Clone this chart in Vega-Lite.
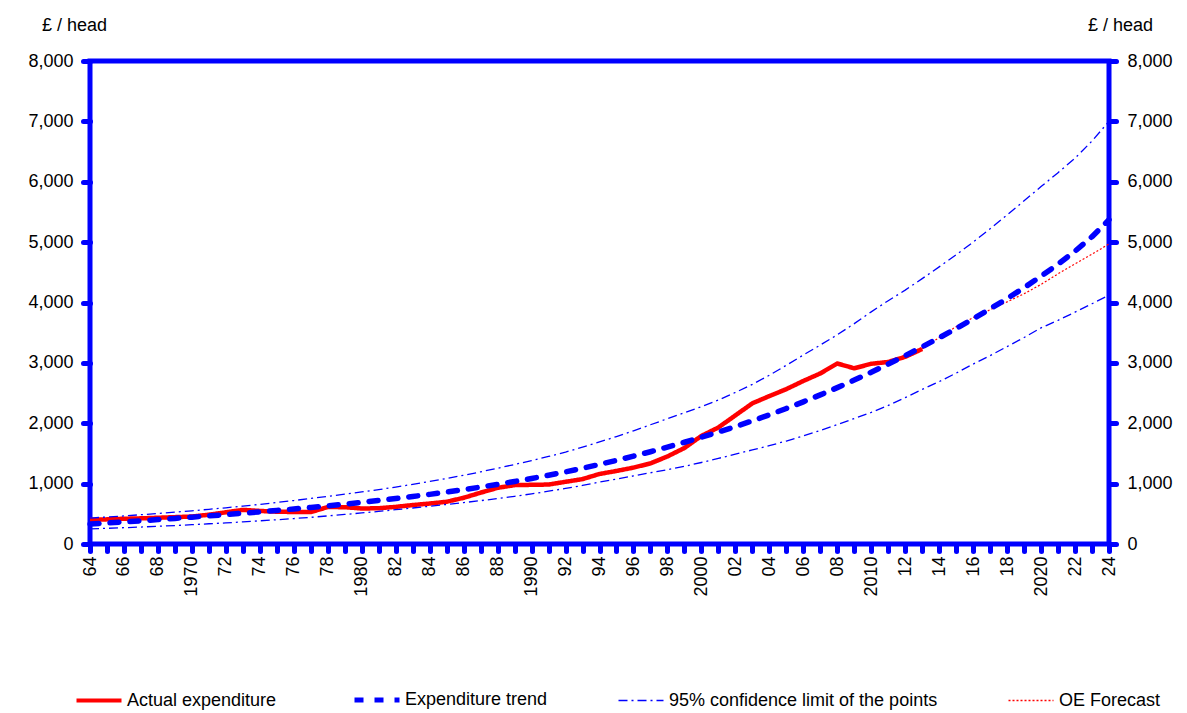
{
  "$schema": "https://vega.github.io/schema/vega-lite/v6.json",
  "width": 1019,
  "height": 483,
  "autosize": {"type": "none"},
  "padding": {"left": 90, "top": 61, "right": 78, "bottom": 169},
  "background": "white",
  "config": {
    "font": "Liberation Sans",
    "view": {"stroke": "#0000FF", "strokeWidth": 5},
    "axis": {
      "labelFont": "Liberation Sans",
      "labelFontSize": 18,
      "labelColor": "#000000",
      "tickColor": "#0000FF",
      "tickWidth": 5,
      "tickSize": 7,
      "tickCap": "round",
      "domain": false,
      "grid": false,
      "labelFlush": false,
      "labelOverlap": false,
      "titleFont": "Liberation Sans",
      "titleFontSize": 18,
      "titleFontWeight": "normal",
      "titleColor": "#000000"
    },
    "legend": {
      "orient": "none",
      "legendX": 0,
      "legendY": 630,
      "direction": "horizontal",
      "columns": 4,
      "symbolType": "stroke",
      "symbolSize": 2025,
      "labelFont": "Liberation Sans",
      "labelFontSize": 18,
      "labelColor": "#000000",
      "labelOffset": 19,
      "labelLimit": 400,
      "columnPadding": 67,
      "padding": 0
    }
  },
  "data": {"values": [
    {"year": 1964, "value": 400, "series": "Actual expenditure", "bound": "a"},
    {"year": 1965, "value": 408, "series": "Actual expenditure", "bound": "a"},
    {"year": 1966, "value": 418, "series": "Actual expenditure", "bound": "a"},
    {"year": 1967, "value": 425, "series": "Actual expenditure", "bound": "a"},
    {"year": 1968, "value": 435, "series": "Actual expenditure", "bound": "a"},
    {"year": 1969, "value": 445, "series": "Actual expenditure", "bound": "a"},
    {"year": 1970, "value": 455, "series": "Actual expenditure", "bound": "a"},
    {"year": 1971, "value": 485, "series": "Actual expenditure", "bound": "a"},
    {"year": 1972, "value": 525, "series": "Actual expenditure", "bound": "a"},
    {"year": 1973, "value": 565, "series": "Actual expenditure", "bound": "a"},
    {"year": 1974, "value": 548, "series": "Actual expenditure", "bound": "a"},
    {"year": 1975, "value": 535, "series": "Actual expenditure", "bound": "a"},
    {"year": 1976, "value": 530, "series": "Actual expenditure", "bound": "a"},
    {"year": 1977, "value": 528, "series": "Actual expenditure", "bound": "a"},
    {"year": 1978, "value": 612, "series": "Actual expenditure", "bound": "a"},
    {"year": 1979, "value": 610, "series": "Actual expenditure", "bound": "a"},
    {"year": 1980, "value": 588, "series": "Actual expenditure", "bound": "a"},
    {"year": 1981, "value": 592, "series": "Actual expenditure", "bound": "a"},
    {"year": 1982, "value": 615, "series": "Actual expenditure", "bound": "a"},
    {"year": 1983, "value": 645, "series": "Actual expenditure", "bound": "a"},
    {"year": 1984, "value": 670, "series": "Actual expenditure", "bound": "a"},
    {"year": 1985, "value": 700, "series": "Actual expenditure", "bound": "a"},
    {"year": 1986, "value": 765, "series": "Actual expenditure", "bound": "a"},
    {"year": 1987, "value": 850, "series": "Actual expenditure", "bound": "a"},
    {"year": 1988, "value": 930, "series": "Actual expenditure", "bound": "a"},
    {"year": 1989, "value": 975, "series": "Actual expenditure", "bound": "a"},
    {"year": 1990, "value": 980, "series": "Actual expenditure", "bound": "a"},
    {"year": 1991, "value": 985, "series": "Actual expenditure", "bound": "a"},
    {"year": 1992, "value": 1030, "series": "Actual expenditure", "bound": "a"},
    {"year": 1993, "value": 1075, "series": "Actual expenditure", "bound": "a"},
    {"year": 1994, "value": 1160, "series": "Actual expenditure", "bound": "a"},
    {"year": 1995, "value": 1210, "series": "Actual expenditure", "bound": "a"},
    {"year": 1996, "value": 1265, "series": "Actual expenditure", "bound": "a"},
    {"year": 1997, "value": 1335, "series": "Actual expenditure", "bound": "a"},
    {"year": 1998, "value": 1450, "series": "Actual expenditure", "bound": "a"},
    {"year": 1999, "value": 1590, "series": "Actual expenditure", "bound": "a"},
    {"year": 2000, "value": 1790, "series": "Actual expenditure", "bound": "a"},
    {"year": 2001, "value": 1930, "series": "Actual expenditure", "bound": "a"},
    {"year": 2002, "value": 2130, "series": "Actual expenditure", "bound": "a"},
    {"year": 2003, "value": 2330, "series": "Actual expenditure", "bound": "a"},
    {"year": 2004, "value": 2450, "series": "Actual expenditure", "bound": "a"},
    {"year": 2005, "value": 2565, "series": "Actual expenditure", "bound": "a"},
    {"year": 2006, "value": 2700, "series": "Actual expenditure", "bound": "a"},
    {"year": 2007, "value": 2825, "series": "Actual expenditure", "bound": "a"},
    {"year": 2008, "value": 2990, "series": "Actual expenditure", "bound": "a"},
    {"year": 2009, "value": 2910, "series": "Actual expenditure", "bound": "a"},
    {"year": 2010, "value": 2985, "series": "Actual expenditure", "bound": "a"},
    {"year": 2011, "value": 3015, "series": "Actual expenditure", "bound": "a"},
    {"year": 2012, "value": 3100, "series": "Actual expenditure", "bound": "a"},
    {"year": 2013, "value": 3230, "series": "Actual expenditure", "bound": "a"},

    {"year": 1964, "value": 330, "series": "Expenditure trend", "bound": "t"},
    {"year": 1965, "value": 348, "series": "Expenditure trend", "bound": "t"},
    {"year": 1966, "value": 366, "series": "Expenditure trend", "bound": "t"},
    {"year": 1967, "value": 385, "series": "Expenditure trend", "bound": "t"},
    {"year": 1968, "value": 404, "series": "Expenditure trend", "bound": "t"},
    {"year": 1969, "value": 424, "series": "Expenditure trend", "bound": "t"},
    {"year": 1970, "value": 445, "series": "Expenditure trend", "bound": "t"},
    {"year": 1971, "value": 466, "series": "Expenditure trend", "bound": "t"},
    {"year": 1972, "value": 487, "series": "Expenditure trend", "bound": "t"},
    {"year": 1973, "value": 509, "series": "Expenditure trend", "bound": "t"},
    {"year": 1974, "value": 532, "series": "Expenditure trend", "bound": "t"},
    {"year": 1975, "value": 555, "series": "Expenditure trend", "bound": "t"},
    {"year": 1976, "value": 580, "series": "Expenditure trend", "bound": "t"},
    {"year": 1977, "value": 605, "series": "Expenditure trend", "bound": "t"},
    {"year": 1978, "value": 632, "series": "Expenditure trend", "bound": "t"},
    {"year": 1979, "value": 660, "series": "Expenditure trend", "bound": "t"},
    {"year": 1980, "value": 690, "series": "Expenditure trend", "bound": "t"},
    {"year": 1981, "value": 720, "series": "Expenditure trend", "bound": "t"},
    {"year": 1982, "value": 753, "series": "Expenditure trend", "bound": "t"},
    {"year": 1983, "value": 787, "series": "Expenditure trend", "bound": "t"},
    {"year": 1984, "value": 822, "series": "Expenditure trend", "bound": "t"},
    {"year": 1985, "value": 860, "series": "Expenditure trend", "bound": "t"},
    {"year": 1986, "value": 900, "series": "Expenditure trend", "bound": "t"},
    {"year": 1987, "value": 943, "series": "Expenditure trend", "bound": "t"},
    {"year": 1988, "value": 988, "series": "Expenditure trend", "bound": "t"},
    {"year": 1989, "value": 1035, "series": "Expenditure trend", "bound": "t"},
    {"year": 1990, "value": 1085, "series": "Expenditure trend", "bound": "t"},
    {"year": 1991, "value": 1138, "series": "Expenditure trend", "bound": "t"},
    {"year": 1992, "value": 1195, "series": "Expenditure trend", "bound": "t"},
    {"year": 1993, "value": 1255, "series": "Expenditure trend", "bound": "t"},
    {"year": 1994, "value": 1318, "series": "Expenditure trend", "bound": "t"},
    {"year": 1995, "value": 1385, "series": "Expenditure trend", "bound": "t"},
    {"year": 1996, "value": 1455, "series": "Expenditure trend", "bound": "t"},
    {"year": 1997, "value": 1528, "series": "Expenditure trend", "bound": "t"},
    {"year": 1998, "value": 1605, "series": "Expenditure trend", "bound": "t"},
    {"year": 1999, "value": 1685, "series": "Expenditure trend", "bound": "t"},
    {"year": 2000, "value": 1770, "series": "Expenditure trend", "bound": "t"},
    {"year": 2001, "value": 1855, "series": "Expenditure trend", "bound": "t"},
    {"year": 2002, "value": 1945, "series": "Expenditure trend", "bound": "t"},
    {"year": 2003, "value": 2040, "series": "Expenditure trend", "bound": "t"},
    {"year": 2004, "value": 2140, "series": "Expenditure trend", "bound": "t"},
    {"year": 2005, "value": 2245, "series": "Expenditure trend", "bound": "t"},
    {"year": 2006, "value": 2355, "series": "Expenditure trend", "bound": "t"},
    {"year": 2007, "value": 2470, "series": "Expenditure trend", "bound": "t"},
    {"year": 2008, "value": 2590, "series": "Expenditure trend", "bound": "t"},
    {"year": 2009, "value": 2715, "series": "Expenditure trend", "bound": "t"},
    {"year": 2010, "value": 2845, "series": "Expenditure trend", "bound": "t"},
    {"year": 2011, "value": 2980, "series": "Expenditure trend", "bound": "t"},
    {"year": 2012, "value": 3120, "series": "Expenditure trend", "bound": "t"},
    {"year": 2013, "value": 3265, "series": "Expenditure trend", "bound": "t"},
    {"year": 2014, "value": 3415, "series": "Expenditure trend", "bound": "t"},
    {"year": 2015, "value": 3570, "series": "Expenditure trend", "bound": "t"},
    {"year": 2016, "value": 3730, "series": "Expenditure trend", "bound": "t"},
    {"year": 2017, "value": 3895, "series": "Expenditure trend", "bound": "t"},
    {"year": 2018, "value": 4065, "series": "Expenditure trend", "bound": "t"},
    {"year": 2019, "value": 4245, "series": "Expenditure trend", "bound": "t"},
    {"year": 2020, "value": 4435, "series": "Expenditure trend", "bound": "t"},
    {"year": 2021, "value": 4635, "series": "Expenditure trend", "bound": "t"},
    {"year": 2022, "value": 4850, "series": "Expenditure trend", "bound": "t"},
    {"year": 2023, "value": 5090, "series": "Expenditure trend", "bound": "t"},
    {"year": 2024, "value": 5370, "series": "Expenditure trend", "bound": "t"},

    {"year": 1964, "value": 430, "series": "95% confidence limit of the points", "bound": "upper"},
    {"year": 1965, "value": 447, "series": "95% confidence limit of the points", "bound": "upper"},
    {"year": 1966, "value": 465, "series": "95% confidence limit of the points", "bound": "upper"},
    {"year": 1967, "value": 485, "series": "95% confidence limit of the points", "bound": "upper"},
    {"year": 1968, "value": 505, "series": "95% confidence limit of the points", "bound": "upper"},
    {"year": 1969, "value": 527, "series": "95% confidence limit of the points", "bound": "upper"},
    {"year": 1970, "value": 550, "series": "95% confidence limit of the points", "bound": "upper"},
    {"year": 1971, "value": 575, "series": "95% confidence limit of the points", "bound": "upper"},
    {"year": 1972, "value": 600, "series": "95% confidence limit of the points", "bound": "upper"},
    {"year": 1973, "value": 627, "series": "95% confidence limit of the points", "bound": "upper"},
    {"year": 1974, "value": 656, "series": "95% confidence limit of the points", "bound": "upper"},
    {"year": 1975, "value": 687, "series": "95% confidence limit of the points", "bound": "upper"},
    {"year": 1976, "value": 720, "series": "95% confidence limit of the points", "bound": "upper"},
    {"year": 1977, "value": 755, "series": "95% confidence limit of the points", "bound": "upper"},
    {"year": 1978, "value": 790, "series": "95% confidence limit of the points", "bound": "upper"},
    {"year": 1979, "value": 825, "series": "95% confidence limit of the points", "bound": "upper"},
    {"year": 1980, "value": 862, "series": "95% confidence limit of the points", "bound": "upper"},
    {"year": 1981, "value": 900, "series": "95% confidence limit of the points", "bound": "upper"},
    {"year": 1982, "value": 943, "series": "95% confidence limit of the points", "bound": "upper"},
    {"year": 1983, "value": 988, "series": "95% confidence limit of the points", "bound": "upper"},
    {"year": 1984, "value": 1035, "series": "95% confidence limit of the points", "bound": "upper"},
    {"year": 1985, "value": 1085, "series": "95% confidence limit of the points", "bound": "upper"},
    {"year": 1986, "value": 1138, "series": "95% confidence limit of the points", "bound": "upper"},
    {"year": 1987, "value": 1195, "series": "95% confidence limit of the points", "bound": "upper"},
    {"year": 1988, "value": 1255, "series": "95% confidence limit of the points", "bound": "upper"},
    {"year": 1989, "value": 1317, "series": "95% confidence limit of the points", "bound": "upper"},
    {"year": 1990, "value": 1382, "series": "95% confidence limit of the points", "bound": "upper"},
    {"year": 1991, "value": 1450, "series": "95% confidence limit of the points", "bound": "upper"},
    {"year": 1992, "value": 1522, "series": "95% confidence limit of the points", "bound": "upper"},
    {"year": 1993, "value": 1603, "series": "95% confidence limit of the points", "bound": "upper"},
    {"year": 1994, "value": 1690, "series": "95% confidence limit of the points", "bound": "upper"},
    {"year": 1995, "value": 1780, "series": "95% confidence limit of the points", "bound": "upper"},
    {"year": 1996, "value": 1875, "series": "95% confidence limit of the points", "bound": "upper"},
    {"year": 1997, "value": 1975, "series": "95% confidence limit of the points", "bound": "upper"},
    {"year": 1998, "value": 2075, "series": "95% confidence limit of the points", "bound": "upper"},
    {"year": 1999, "value": 2175, "series": "95% confidence limit of the points", "bound": "upper"},
    {"year": 2000, "value": 2275, "series": "95% confidence limit of the points", "bound": "upper"},
    {"year": 2001, "value": 2385, "series": "95% confidence limit of the points", "bound": "upper"},
    {"year": 2002, "value": 2510, "series": "95% confidence limit of the points", "bound": "upper"},
    {"year": 2003, "value": 2645, "series": "95% confidence limit of the points", "bound": "upper"},
    {"year": 2004, "value": 2795, "series": "95% confidence limit of the points", "bound": "upper"},
    {"year": 2005, "value": 2960, "series": "95% confidence limit of the points", "bound": "upper"},
    {"year": 2006, "value": 3130, "series": "95% confidence limit of the points", "bound": "upper"},
    {"year": 2007, "value": 3295, "series": "95% confidence limit of the points", "bound": "upper"},
    {"year": 2008, "value": 3465, "series": "95% confidence limit of the points", "bound": "upper"},
    {"year": 2009, "value": 3650, "series": "95% confidence limit of the points", "bound": "upper"},
    {"year": 2010, "value": 3845, "series": "95% confidence limit of the points", "bound": "upper"},
    {"year": 2011, "value": 4030, "series": "95% confidence limit of the points", "bound": "upper"},
    {"year": 2012, "value": 4205, "series": "95% confidence limit of the points", "bound": "upper"},
    {"year": 2013, "value": 4395, "series": "95% confidence limit of the points", "bound": "upper"},
    {"year": 2014, "value": 4590, "series": "95% confidence limit of the points", "bound": "upper"},
    {"year": 2015, "value": 4790, "series": "95% confidence limit of the points", "bound": "upper"},
    {"year": 2016, "value": 5000, "series": "95% confidence limit of the points", "bound": "upper"},
    {"year": 2017, "value": 5220, "series": "95% confidence limit of the points", "bound": "upper"},
    {"year": 2018, "value": 5450, "series": "95% confidence limit of the points", "bound": "upper"},
    {"year": 2019, "value": 5685, "series": "95% confidence limit of the points", "bound": "upper"},
    {"year": 2020, "value": 5920, "series": "95% confidence limit of the points", "bound": "upper"},
    {"year": 2021, "value": 6150, "series": "95% confidence limit of the points", "bound": "upper"},
    {"year": 2022, "value": 6390, "series": "95% confidence limit of the points", "bound": "upper"},
    {"year": 2023, "value": 6675, "series": "95% confidence limit of the points", "bound": "upper"},
    {"year": 2024, "value": 7000, "series": "95% confidence limit of the points", "bound": "upper"},

    {"year": 1964, "value": 250, "series": "95% confidence limit of the points", "bound": "lower"},
    {"year": 1965, "value": 260, "series": "95% confidence limit of the points", "bound": "lower"},
    {"year": 1966, "value": 270, "series": "95% confidence limit of the points", "bound": "lower"},
    {"year": 1967, "value": 281, "series": "95% confidence limit of the points", "bound": "lower"},
    {"year": 1968, "value": 294, "series": "95% confidence limit of the points", "bound": "lower"},
    {"year": 1969, "value": 306, "series": "95% confidence limit of the points", "bound": "lower"},
    {"year": 1970, "value": 320, "series": "95% confidence limit of the points", "bound": "lower"},
    {"year": 1971, "value": 335, "series": "95% confidence limit of the points", "bound": "lower"},
    {"year": 1972, "value": 350, "series": "95% confidence limit of the points", "bound": "lower"},
    {"year": 1973, "value": 366, "series": "95% confidence limit of the points", "bound": "lower"},
    {"year": 1974, "value": 384, "series": "95% confidence limit of the points", "bound": "lower"},
    {"year": 1975, "value": 402, "series": "95% confidence limit of the points", "bound": "lower"},
    {"year": 1976, "value": 421, "series": "95% confidence limit of the points", "bound": "lower"},
    {"year": 1977, "value": 442, "series": "95% confidence limit of the points", "bound": "lower"},
    {"year": 1978, "value": 465, "series": "95% confidence limit of the points", "bound": "lower"},
    {"year": 1979, "value": 489, "series": "95% confidence limit of the points", "bound": "lower"},
    {"year": 1980, "value": 514, "series": "95% confidence limit of the points", "bound": "lower"},
    {"year": 1981, "value": 540, "series": "95% confidence limit of the points", "bound": "lower"},
    {"year": 1982, "value": 568, "series": "95% confidence limit of the points", "bound": "lower"},
    {"year": 1983, "value": 596, "series": "95% confidence limit of the points", "bound": "lower"},
    {"year": 1984, "value": 625, "series": "95% confidence limit of the points", "bound": "lower"},
    {"year": 1985, "value": 655, "series": "95% confidence limit of the points", "bound": "lower"},
    {"year": 1986, "value": 686, "series": "95% confidence limit of the points", "bound": "lower"},
    {"year": 1987, "value": 718, "series": "95% confidence limit of the points", "bound": "lower"},
    {"year": 1988, "value": 752, "series": "95% confidence limit of the points", "bound": "lower"},
    {"year": 1989, "value": 790, "series": "95% confidence limit of the points", "bound": "lower"},
    {"year": 1990, "value": 830, "series": "95% confidence limit of the points", "bound": "lower"},
    {"year": 1991, "value": 874, "series": "95% confidence limit of the points", "bound": "lower"},
    {"year": 1992, "value": 920, "series": "95% confidence limit of the points", "bound": "lower"},
    {"year": 1993, "value": 970, "series": "95% confidence limit of the points", "bound": "lower"},
    {"year": 1994, "value": 1025, "series": "95% confidence limit of the points", "bound": "lower"},
    {"year": 1995, "value": 1075, "series": "95% confidence limit of the points", "bound": "lower"},
    {"year": 1996, "value": 1127, "series": "95% confidence limit of the points", "bound": "lower"},
    {"year": 1997, "value": 1180, "series": "95% confidence limit of the points", "bound": "lower"},
    {"year": 1998, "value": 1232, "series": "95% confidence limit of the points", "bound": "lower"},
    {"year": 1999, "value": 1287, "series": "95% confidence limit of the points", "bound": "lower"},
    {"year": 2000, "value": 1350, "series": "95% confidence limit of the points", "bound": "lower"},
    {"year": 2001, "value": 1418, "series": "95% confidence limit of the points", "bound": "lower"},
    {"year": 2002, "value": 1488, "series": "95% confidence limit of the points", "bound": "lower"},
    {"year": 2003, "value": 1558, "series": "95% confidence limit of the points", "bound": "lower"},
    {"year": 2004, "value": 1630, "series": "95% confidence limit of the points", "bound": "lower"},
    {"year": 2005, "value": 1705, "series": "95% confidence limit of the points", "bound": "lower"},
    {"year": 2006, "value": 1790, "series": "95% confidence limit of the points", "bound": "lower"},
    {"year": 2007, "value": 1880, "series": "95% confidence limit of the points", "bound": "lower"},
    {"year": 2008, "value": 1978, "series": "95% confidence limit of the points", "bound": "lower"},
    {"year": 2009, "value": 2078, "series": "95% confidence limit of the points", "bound": "lower"},
    {"year": 2010, "value": 2180, "series": "95% confidence limit of the points", "bound": "lower"},
    {"year": 2011, "value": 2295, "series": "95% confidence limit of the points", "bound": "lower"},
    {"year": 2012, "value": 2425, "series": "95% confidence limit of the points", "bound": "lower"},
    {"year": 2013, "value": 2560, "series": "95% confidence limit of the points", "bound": "lower"},
    {"year": 2014, "value": 2690, "series": "95% confidence limit of the points", "bound": "lower"},
    {"year": 2015, "value": 2830, "series": "95% confidence limit of the points", "bound": "lower"},
    {"year": 2016, "value": 2980, "series": "95% confidence limit of the points", "bound": "lower"},
    {"year": 2017, "value": 3120, "series": "95% confidence limit of the points", "bound": "lower"},
    {"year": 2018, "value": 3270, "series": "95% confidence limit of the points", "bound": "lower"},
    {"year": 2019, "value": 3420, "series": "95% confidence limit of the points", "bound": "lower"},
    {"year": 2020, "value": 3580, "series": "95% confidence limit of the points", "bound": "lower"},
    {"year": 2021, "value": 3705, "series": "95% confidence limit of the points", "bound": "lower"},
    {"year": 2022, "value": 3840, "series": "95% confidence limit of the points", "bound": "lower"},
    {"year": 2023, "value": 3980, "series": "95% confidence limit of the points", "bound": "lower"},
    {"year": 2024, "value": 4120, "series": "95% confidence limit of the points", "bound": "lower"},

    {"year": 2013, "value": 3230, "series": "OE Forecast", "bound": "f"},
    {"year": 2014, "value": 3420, "series": "OE Forecast", "bound": "f"},
    {"year": 2015, "value": 3600, "series": "OE Forecast", "bound": "f"},
    {"year": 2016, "value": 3750, "series": "OE Forecast", "bound": "f"},
    {"year": 2017, "value": 3880, "series": "OE Forecast", "bound": "f"},
    {"year": 2018, "value": 4010, "series": "OE Forecast", "bound": "f"},
    {"year": 2019, "value": 4145, "series": "OE Forecast", "bound": "f"},
    {"year": 2020, "value": 4300, "series": "OE Forecast", "bound": "f"},
    {"year": 2021, "value": 4475, "series": "OE Forecast", "bound": "f"},
    {"year": 2022, "value": 4640, "series": "OE Forecast", "bound": "f"},
    {"year": 2023, "value": 4800, "series": "OE Forecast", "bound": "f"},
    {"year": 2024, "value": 4970, "series": "OE Forecast", "bound": "f"}
  ]},
  "layer": [
    {
      "encoding": {
        "x": {
          "field": "year",
          "type": "quantitative",
          "scale": {"domain": [1964, 2024], "nice": false, "zero": false},
          "axis": {
            "title": null,
            "values": [1964,1965,1966,1967,1968,1969,1970,1971,1972,1973,1974,1975,1976,1977,1978,1979,1980,1981,1982,1983,1984,1985,1986,1987,1988,1989,1990,1991,1992,1993,1994,1995,1996,1997,1998,1999,2000,2001,2002,2003,2004,2005,2006,2007,2008,2009,2010,2011,2012,2013,2014,2015,2016,2017,2018,2019,2020,2021,2022,2023,2024],
            "format": "d",
            "labelExpr": "datum.value % 2 == 1 ? '' : (datum.value % 10 == 0 ? datum.label : slice(datum.label, 2))",
            "labelAngle": 270,
            "labelPadding": 5
          }
        },
        "y": {
          "field": "value",
          "type": "quantitative",
          "scale": {"domain": [0, 8000], "nice": false},
          "axis": {
            "orient": "left",
            "values": [0,1000,2000,3000,4000,5000,6000,7000,8000],
            "format": ",d",
            "labelPadding": 10,
            "title": "£ / head",
            "titleAngle": 0,
            "titleAlign": "center",
            "titleBaseline": "middle",
            "titleX": -16,
            "titleY": -36
          }
        },
        "color": {
          "field": "series",
          "type": "nominal",
          "scale": {
            "domain": ["Actual expenditure", "Expenditure trend", "95% confidence limit of the points", "OE Forecast"],
            "range": ["#FF0000", "#0000FF", "#0000FF", "#FF0000"]
          },
          "legend": {
            "title": null,
            "symbolType": "stroke",
            "symbolSize": 2025,
            "direction": "horizontal",
            "columns": 4,
            "orient": "none",
            "legendX": 0,
            "legendY": 630,
            "labelLimit": 400,
            "encode": {
              "symbols": {
                "update": {
                  "strokeWidth": {"signal": "datum.value === 'Actual expenditure' ? 4 : datum.value === 'Expenditure trend' ? 5 : 1.3"},
                  "strokeCap": {"value": "butt"}
                }
              }
            }
          }
        },
        "strokeDash": {
          "field": "series",
          "type": "nominal",
          "scale": {
            "domain": ["Actual expenditure", "Expenditure trend", "95% confidence limit of the points", "OE Forecast"],
            "range": [[1, 0], [9, 11], [9, 4, 2, 4], [2, 2]]
          },
          "legend": {
            "title": null,
            "symbolType": "stroke",
            "symbolSize": 2025,
            "direction": "horizontal",
            "columns": 4,
            "orient": "none",
            "legendX": 0,
            "legendY": 630,
            "labelLimit": 400
          }
        },
        "detail": {"field": "bound", "type": "nominal"}
      },
      "layer": [
        {
          "transform": [{"filter": "datum.series === 'Actual expenditure'"}],
          "mark": {"type": "line", "strokeWidth": 4.5, "strokeJoin": "round", "strokeCap": "butt"}
        },
        {
          "transform": [{"filter": "datum.series === 'OE Forecast'"}],
          "mark": {"type": "line", "strokeWidth": 1.2, "strokeJoin": "round"}
        },
        {
          "transform": [{"filter": "datum.series === '95% confidence limit of the points'"}],
          "mark": {"type": "line", "strokeWidth": 1.3, "strokeJoin": "round"}
        },
        {
          "transform": [{"filter": "datum.series === 'Expenditure trend'"}],
          "mark": {"type": "line", "strokeWidth": 5.5, "strokeJoin": "round", "strokeCap": "round"}
        }
      ]
    },
    {
      "transform": [{"filter": "datum.series === 'Expenditure trend'"}],
      "mark": {"type": "line", "strokeOpacity": 0},
      "encoding": {
        "x": {"field": "year", "type": "quantitative", "axis": null},
        "y": {
          "field": "value",
          "type": "quantitative",
          "axis": {
            "orient": "right",
            "values": [0,1000,2000,3000,4000,5000,6000,7000,8000],
            "format": ",d",
            "labelPadding": 11,
            "title": "£ / head",
            "titleAngle": 0,
            "titleAlign": "center",
            "titleBaseline": "middle",
            "titleX": 11,
            "titleY": -36
          }
        }
      }
    }
  ],
  "resolve": {"axis": {"x": "independent", "y": "independent"}}
}
